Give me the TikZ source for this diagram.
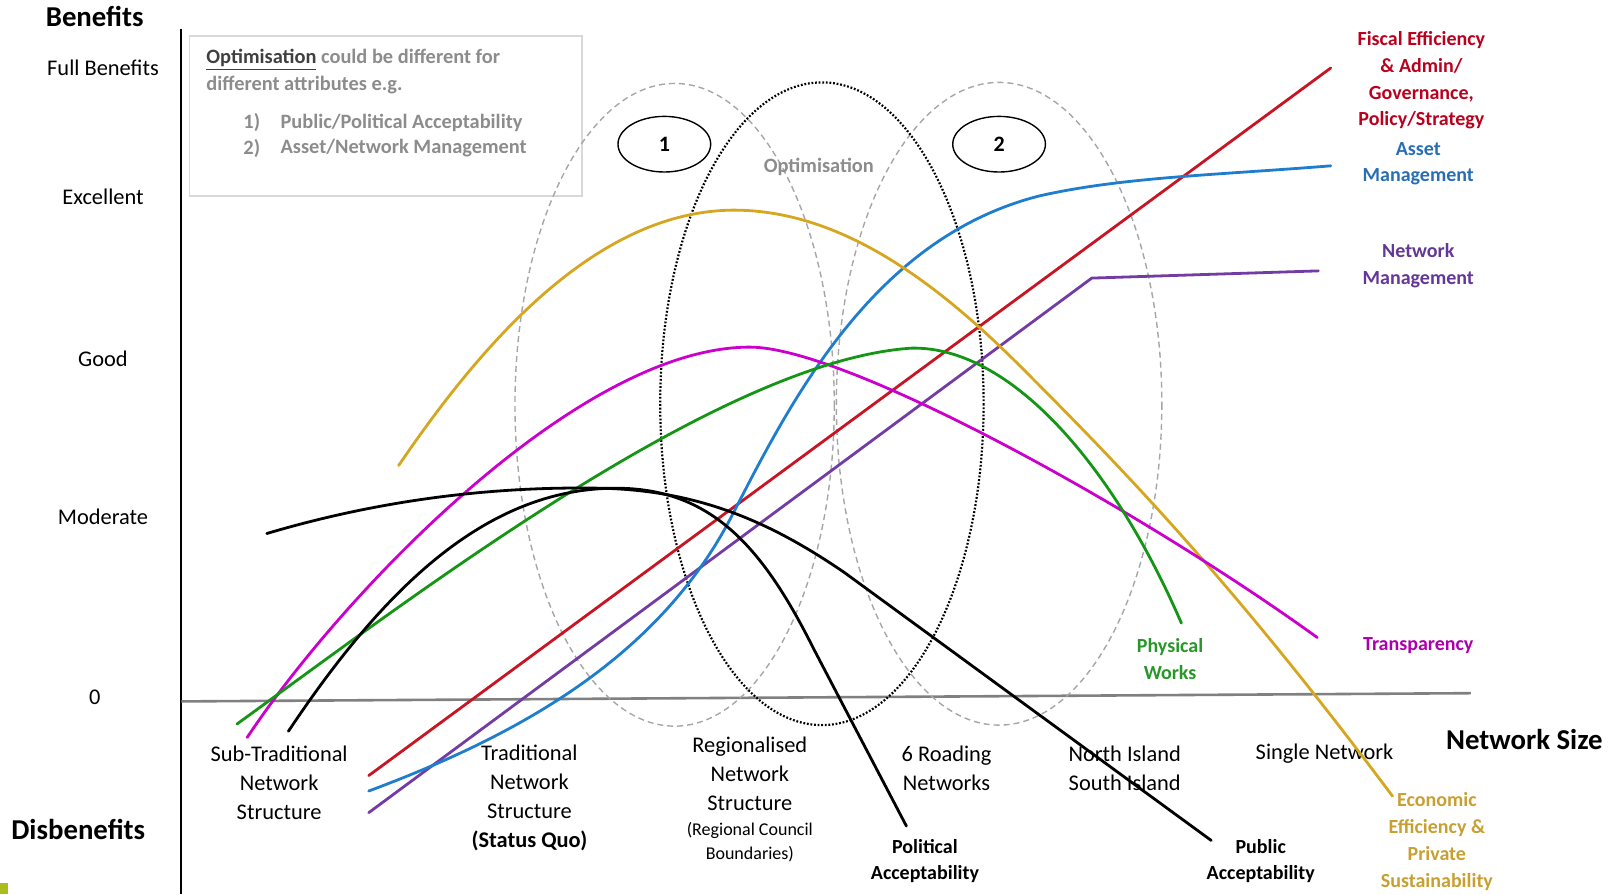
\documentclass[tikz,border=0pt]{standalone}
\usepackage{fontspec}
\setmainfont{Carlito}
\usepackage{tikz}
\definecolor{goldline}{RGB}{214,166,32}
\definecolor{goldtext}{RGB}{200,160,50}
\definecolor{magline}{RGB}{204,0,204}
\definecolor{greenline}{RGB}{20,150,20}
\definecolor{greentext}{RGB}{40,150,40}
\definecolor{redline}{RGB}{200,20,35}
\definecolor{redtext}{RGB}{185,0,30}
\definecolor{blueline}{RGB}{30,125,205}
\definecolor{bluetext}{RGB}{40,110,180}
\definecolor{purpline}{RGB}{115,60,165}
\definecolor{purptext}{RGB}{100,55,150}
\definecolor{boxgray}{RGB}{140,140,140}
\definecolor{slidegreen}{RGB}{170,190,30}

\begin{document}
\begin{tikzpicture}[x=0.515pt,y=-0.515pt,
  curve/.style={line width=1.4pt,line cap=round},
  axislbl/.style={font=\fontsize{11.2}{14.4}\selectfont,inner sep=0pt},
  sizelbl/.style={font=\fontsize{11.2}{14.4}\selectfont,align=center,inner sep=0pt},
  sidelbl/.style={font=\bfseries\fontsize{10}{13.4}\selectfont,align=center,inner sep=0pt},
  boxtxt/.style={font=\bfseries\fontsize{10.2}{12}\selectfont,text=boxgray,inner sep=0pt,anchor=west},
  bigbold/.style={font=\bfseries\fontsize{14.4}{17}\selectfont,inner sep=0pt},
  optell/.style={gray!70,line width=0.7pt,dash pattern=on 3pt off 2pt}]
\useasboundingbox (0,0) rectangle (1568,868);

% the axes
  \draw[line width=1pt] (176,28) -- (176,868);
  \draw[gray,line width=1.3pt] (176,681) -- (1428,673);
  \fill[slidegreen] (0,857) rectangle (8,868);

% benefit levels
  \node[bigbold] (benefits) at (92,16) {Benefits};
  \node[axislbl] (full) at (100,66) {Full Benefits};
  \node[axislbl] (excellent) at (100,191) {Excellent};
  \node[axislbl] (good) at (100,348) {Good};
  \node[axislbl] (moderate) at (100,502) {Moderate};
  \node[axislbl] (zero) at (92,677) {0};
  \node[bigbold] (disbenefits) at (76,805) {Disbenefits};
  \node[bigbold] (netsize) at (1480,718) {Network Size};

% the note box
  \draw[gray!30,line width=0.8pt] (184,35) rectangle (565,190);
  \node[boxtxt] (note1) at (200,58) {\textcolor{darkgray}{\underline{Optimisation}} could be different for};
  \node[boxtxt] (note2) at (200,83) {different attributes e.g.};
  \node[boxtxt] (num1) at (236,119) {1)};
  \node[boxtxt] (item1) at (272,119) {Public/Political Acceptability};
  \node[boxtxt] (num2) at (236,144) {2)};
  \node[boxtxt] (item2) at (272,144) {Asset/Network Management};

% optimisation zones
  \draw[optell] (655,393) ellipse [x radius=155, y radius=312];
  \draw[optell] (970,392) ellipse [x radius=158, y radius=312];
  \draw[line width=1.1pt,dash pattern=on 0.9pt off 0.9pt] (798,392) ellipse [x radius=157, y radius=312];
  \draw[line width=0.7pt] (645,140) ellipse [x radius=45, y radius=27];
  \draw[line width=0.7pt] (970,140) ellipse [x radius=45, y radius=27];
  \node[font=\bfseries\fontsize{11}{13}\selectfont] (one) at (645,140) {1};
  \node[font=\bfseries\fontsize{11}{13}\selectfont] (two) at (970,140) {2};
  \node[boxtxt,anchor=center] (optim) at (795,162) {Optimisation};

% network size options
  \node[sizelbl] (subtrad) at (271,760) {Sub-Traditional\\Network\\Structure};
  \node[sizelbl] (trad) at (514,774.5) {Traditional\\Network\\Structure\\\textbf{(Status Quo)}};
  \node[sizelbl] (region) at (728,751.5) {Regionalised\\Network\\Structure};
  \node[sizelbl,font=\fontsize{9}{11.8}\selectfont] (council) at (728,817.5) {(Regional Council\\Boundaries)};
  \node[sizelbl] (six) at (919,746) {6 Roading\\Networks};
  \node[sizelbl] (islands) at (1092,746) {North Island\\South Island};
  \node[sizelbl] (single) at (1286,732) {Single Network};

% the curves
  \draw[curve,redline] (358,753) -- (1292,66);
  \draw[curve,purpline] (358,789) -- (1060,270) -- (1280,263);
  \draw[curve,blueline] (358,768) .. controls (500,715) and (640,640) .. (712,498)
    .. controls (770,385) and (850,230) .. (1010,190)
    .. controls (1090,172) and (1180,170) .. (1292,161);
  \draw[curve,goldline] (387,452) .. controls (470,330) and (580,205) .. (712,204)
    .. controls (810,204) and (900,265) .. (990,355)
    .. controls (1100,465) and (1200,570) .. (1352,773);
  \draw[curve,magline] (240,716) .. controls (330,580) and (560,337) .. (728,337)
    .. controls (820,337) and (1100,490) .. (1279,619);
  \draw[curve,greenline] (230,703) .. controls (400,580) and (700,350) .. (885,338)
    .. controls (980,336) and (1080,450) .. (1147,605);
  \draw[curve] (280,710) .. controls (370,575) and (470,474) .. (598,474)
    .. controls (690,474) and (740,530) .. (790,630) -- (880,802);
  \draw[curve] (259,518) .. controls (370,485) and (480,472) .. (583,474)
    .. controls (680,476) and (750,508) .. (820,556) -- (1176,816);

% curve labels
  \node[sidelbl,text=redtext] (fiscal) at (1380,78) {Fiscal Efficiency\\\& Admin/\\Governance,\\Policy/Strategy};
  \node[sidelbl,text=bluetext] (asset) at (1377,159) {Asset\\Management};
  \node[sidelbl,text=purptext] (netman) at (1377,258) {Network\\Management};
  \node[sidelbl,text=magline!85!black] (transp) at (1377,627) {Transparency};
  \node[sidelbl,text=greentext] (works) at (1136,639.5) {Physical\\Works};
  \node[sidelbl,text=goldtext] (econ) at (1395,817) {Economic\\Efficiency \&\\Private\\Sustainability};
  \node[sidelbl] (polit) at (898,836) {Political\\Acceptability};
  \node[sidelbl] (public) at (1224,836) {Public\\Acceptability};
\end{tikzpicture}
\end{document}
